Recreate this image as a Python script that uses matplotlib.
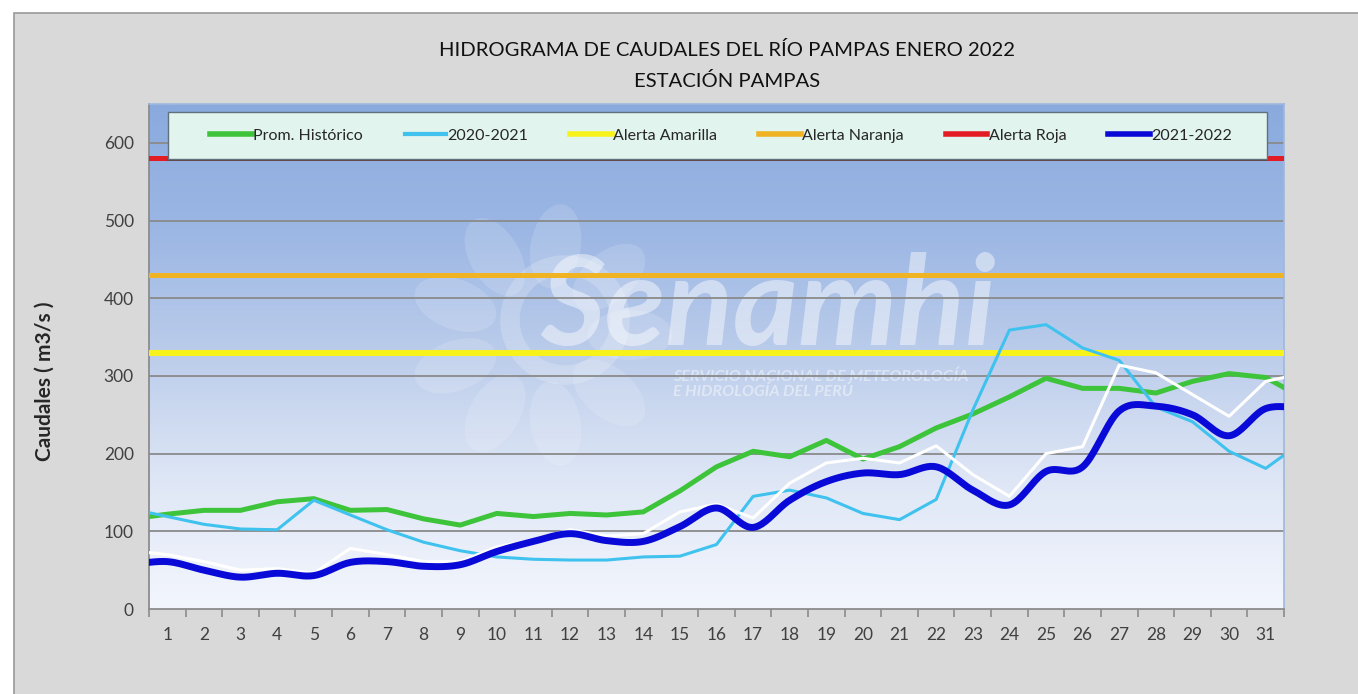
import numpy as np
import matplotlib
matplotlib.use("Agg")
import matplotlib.pyplot as plt
from matplotlib.patches import Rectangle, Ellipse, Circle
from matplotlib.lines import Line2D
from matplotlib.colors import LinearSegmentedColormap
from matplotlib.transforms import IdentityTransform

# ---------------- data ----------------
# day 0 and day 32 are the neighbouring days that are only partly visible at the plot edges
dias = np.arange(0, 33)
dias_etiqueta = list(range(1, 32))

prom_historico = [116, 122, 127, 127, 138, 142, 127, 128, 116, 108, 123, 119, 123, 121, 125, 152,
                  183, 203, 196, 217, 193, 209, 233, 251, 273, 297, 284, 284, 278, 293, 303, 298, 272]
serie_2020_2021 = [129, 119, 109, 103, 102, 140, 121, 102, 86, 75, 67, 64, 63, 63, 67, 68,
                   83, 145, 153, 143, 123, 115, 141, 256, 359, 366, 336, 320, 260, 241, 203, 181, 215]
serie_blanca = [75, 70, 61, 50, 52, 46, 78, 70, 61, 61, 80, 89, 102, 94, 97, 125,
                135, 117, 162, 188, 194, 188, 210, 173, 145, 200, 209, 314, 304, 276, 248, 293, 303]
serie_2021_2022 = [57, 61, 50, 41, 46, 43, 60, 61, 55, 57, 74, 87, 97, 88, 87, 106,
                   130, 105, 140, 164, 175, 173, 183, 153, 134, 177, 183, 255, 261, 250, 223, 258, 258]

alerta_amarilla = 330
alerta_naranja = 430
alerta_roja = 580

y_ticks = [0, 100, 200, 300, 400, 500, 600]

titulo_1 = "HIDROGRAMA DE CAUDALES DEL RÍO PAMPAS ENERO 2022"
titulo_2 = "ESTACIÓN PAMPAS"
etiqueta_y = "Caudales ( m3/s )"
leyenda = ["Prom. Histórico", "2020-2021", "Alerta Amarilla", "Alerta Naranja", "Alerta Roja", "2021-2022"]

# ---------------- helpers ----------------
W, H = 1358, 694
def fx(px):
    return px / W
def fy(py):
    return 1 - py / H

def suavizar(x, y, n=20):
    """Catmull-Rom smoothing (like Excel's smoothed line)."""
    x = np.asarray(x, float); y = np.asarray(y, float)
    xs, ys = [], []
    m = len(x)
    for i in range(m - 1):
        i0 = max(i - 1, 0); i3 = min(i + 2, m - 1)
        t = np.linspace(0, 1, n, endpoint=False)
        for arr, out in ((x, xs), (y, ys)):
            p0, p1, p2, p3 = arr[i0], arr[i], arr[i + 1], arr[i3]
            out.extend(0.5 * ((2 * p1) + (-p0 + p2) * t + (2 * p0 - 5 * p1 + 4 * p2 - p3) * t ** 2
                              + (-p0 + 3 * p1 - 3 * p2 + p3) * t ** 3))
    xs.append(x[-1]); ys.append(y[-1])
    return np.array(xs), np.array(ys)

FONT = ["Liberation Sans Narrow", "Lato", "DejaVu Sans"]

C_VERDE = "#3ec43a"
C_CELESTE = "#40c2ee"
C_AMARILLO = "#f7f219"
C_NARANJA = "#f0b323"
C_ROJO = "#e31b23"
C_AZUL = "#0a0ad8"

# ---------------- figure ----------------
fig = plt.figure(figsize=(W / 100, H / 100), dpi=100)
fig.patch.set_facecolor("white")
bg = Rectangle((fx(14), -0.01), 1.0, fy(13) + 0.01, transform=fig.transFigure,
               facecolor="#d9d9d9", edgecolor="#9a9a9a", lw=1.2, zorder=-10)
fig.patches.append(bg)

ax = fig.add_axes([fx(149), fy(609), fx(1284) - fx(149), fy(104) - fy(609)])
ax.set_zorder(2)
ax.set_xlim(0.5, 31.5)
ax.set_ylim(0, 650)

# gradient background of the plot area
cmap = LinearSegmentedColormap.from_list("bg", ["#f3f6fd", "#dfe7f6", "#bccdeb", "#9cb7e4", "#8aaade"])
grad = np.linspace(0, 1, 256).reshape(-1, 1)
ax.imshow(grad, extent=[0, 1, 0, 1], transform=ax.transAxes, origin="lower", aspect="auto",
          cmap=cmap, zorder=0, interpolation="bicubic")

# watermark (SENAMHI logo approximation)
cx, cy = 540, H - 335
for ang in range(0, 360, 40):
    a = np.deg2rad(ang)
    ax.add_patch(Ellipse((cx + 90 * np.cos(a), cy + 90 * np.sin(a)), 85, 50, angle=ang,
                         transform=IdentityTransform(), facecolor="white", alpha=0.14,
                         edgecolor="none", zorder=1))
ax.add_patch(Circle((cx + 25, cy + 15), 55, transform=IdentityTransform(), facecolor="none",
                    edgecolor="white", lw=14, alpha=0.2, zorder=1))
ax.text(0.345, 0.595, "Senamhi", transform=ax.transAxes, fontsize=90, fontweight="bold",
        fontstyle="italic", color="white", alpha=0.45, family=FONT, va="center", ha="left", zorder=1)
ax.text(0.462, 0.445, "SERVICIO NACIONAL DE METEOROLOGÍA\nE HIDROLOGÍA DEL PERÚ", transform=ax.transAxes,
        fontsize=11.5, fontweight="bold", fontstyle="italic", color="white", alpha=0.45, family=FONT,
        va="center", ha="left", linespacing=1.1, zorder=1)

# grid
for v in y_ticks[1:]:
    ax.axhline(v, color="#8a8a8a", lw=1.3, zorder=2)

# alert lines
ax.axhline(alerta_amarilla, color=C_AMARILLO, lw=4.3, zorder=3)
ax.axhline(alerta_naranja, color=C_NARANJA, lw=3.6, zorder=3)
ax.axhline(alerta_roja, color=C_ROJO, lw=3.6, zorder=3)

# series
ax.plot(dias, prom_historico, color=C_VERDE, lw=3.6, zorder=4, solid_joinstyle="round")
ax.plot(dias, serie_2020_2021, color=C_CELESTE, lw=2.2, zorder=5, solid_joinstyle="round")
ax.plot(dias, serie_blanca, color="white", lw=2.2, zorder=5, solid_joinstyle="round")
sx, sy = suavizar(dias, serie_2021_2022)
ax.plot(sx, sy, color=C_AZUL, lw=5.0, zorder=6, solid_capstyle="round")

# axes styling
for s in ("left", "bottom"):
    ax.spines[s].set_color("#8c8c8c")
    ax.spines[s].set_linewidth(1.3)
for s in ("top", "right"):
    ax.spines[s].set_color("#9fb8dc")
    ax.spines[s].set_linewidth(1.2)

ax.set_xticks(np.arange(0.5, 32, 1.0))
ax.set_xticklabels([])
ax.set_xticks(dias_etiqueta, minor=True)
ax.set_xticklabels([str(d) for d in dias_etiqueta], minor=True, family=FONT)
ax.tick_params(axis="x", which="major", length=6, direction="out", color="#8c8c8c", width=1.2)
ax.tick_params(axis="x", which="minor", length=0, pad=13, labelsize=12.5, labelcolor="#404040")
ax.set_yticks(y_ticks)
ax.set_yticklabels([str(v) for v in y_ticks], family=FONT)
ax.tick_params(axis="y", length=0, pad=11, labelsize=12.5, labelcolor="#404040")

# titles
fig.text(fx(727), fy(50), titulo_1, ha="center", va="center",
         fontsize=14.6, family=FONT, color="#111111")
fig.text(fx(727), fy(81), titulo_2, ha="center", va="center",
         fontsize=14.6, family=FONT, color="#111111")
fig.text(fx(45), fy(381), etiqueta_y, rotation=90, ha="center", va="center", fontsize=15,
         family=["Lato", "DejaVu Sans"], fontweight="bold", color="#262626")

# legend frame (drawn separately so the entries can have wide side padding)
leg_box = Rectangle((fx(168), fy(159)), fx(1267) - fx(168), fy(112) - fy(159), transform=fig.transFigure,
                    facecolor="#e1f4ed", edgecolor="#62707e", lw=1.0, zorder=8)
fig.patches.append(leg_box)
ax_shadow = Line2D([fx(168), fx(1267)], [fy(159.5), fy(159.5)], transform=fig.transFigure,
                   color="#4a4a4a", lw=1.2, zorder=8)
fig.lines.append(ax_shadow)

handles = [
    Line2D([], [], color=C_VERDE, lw=4),
    Line2D([], [], color=C_CELESTE, lw=3),
    Line2D([], [], color=C_AMARILLO, lw=4),
    Line2D([], [], color=C_NARANJA, lw=4),
    Line2D([], [], color=C_ROJO, lw=4),
    Line2D([], [], color=C_AZUL, lw=4),
]
leg = fig.legend(handles, leyenda, loc="center", ncol=6, mode="expand",
                 bbox_to_anchor=(fx(210), fy(159), fx(1232) - fx(210), fy(112) - fy(159)),
                 bbox_transform=fig.transFigure, borderaxespad=0, frameon=False,
                 handlelength=2.6, handletextpad=0.1, borderpad=0.0,
                 prop={"family": FONT, "size": 11.5})
leg.set_zorder(10)
for t in leg.get_texts():
    t.set_color("#262626")

fig.savefig("out.png", dpi=100)
